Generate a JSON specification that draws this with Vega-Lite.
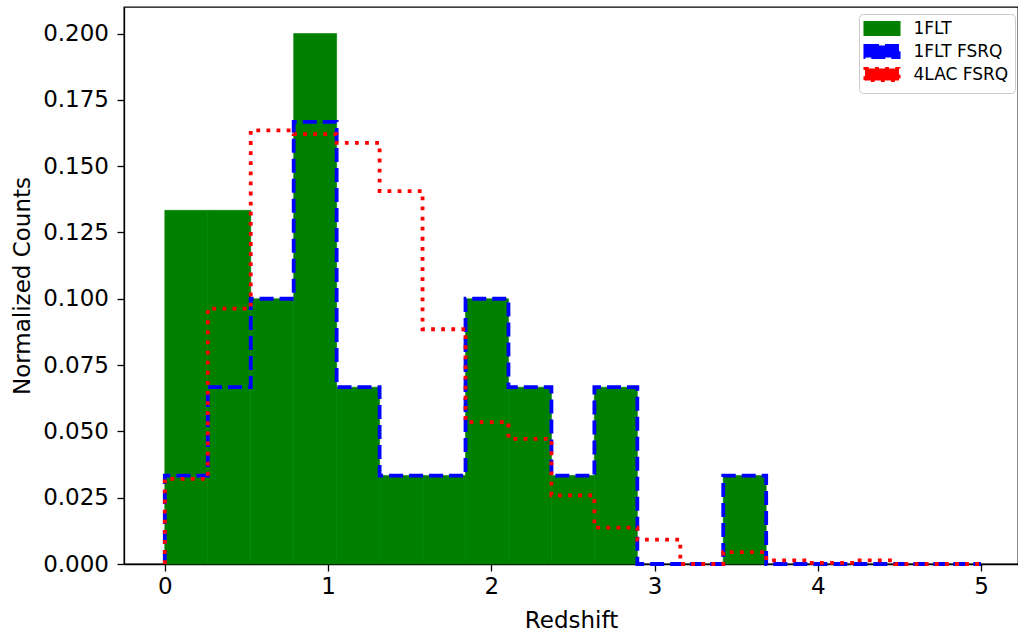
{
  "$schema": "https://vega.github.io/schema/vega-lite/v6.json",
  "width": 894,
  "height": 557,
  "autosize": {"type": "none"},
  "padding": {"left": 124, "top": 7, "right": 0, "bottom": 72},
  "background": "white",
  "config": {
    "font": "DejaVu Sans",
    "view": {"stroke": "black", "strokeWidth": 1.3},
    "axis": {
      "grid": false,
      "domainColor": "black",
      "domainWidth": 1.3,
      "tickColor": "black",
      "tickWidth": 1.3,
      "tickSize": 7,
      "labelColor": "black",
      "labelFont": "DejaVu Sans",
      "labelFontSize": 23,
      "titleFont": "DejaVu Sans",
      "titleFontSize": 23,
      "titleFontWeight": "normal",
      "titleColor": "black"
    }
  },
  "datasets": {
    "bars": [
      {"series": "1FLT", "x0": 0.0, "x1": 0.26316, "y": 0.13333},
      {"series": "1FLT", "x0": 0.26316, "x1": 0.52632, "y": 0.13333},
      {"series": "1FLT", "x0": 0.52632, "x1": 0.78947, "y": 0.1},
      {"series": "1FLT", "x0": 0.78947, "x1": 1.05263, "y": 0.2},
      {"series": "1FLT", "x0": 1.05263, "x1": 1.31579, "y": 0.06667},
      {"series": "1FLT", "x0": 1.31579, "x1": 1.57895, "y": 0.03333},
      {"series": "1FLT", "x0": 1.57895, "x1": 1.84211, "y": 0.03333},
      {"series": "1FLT", "x0": 1.84211, "x1": 2.10526, "y": 0.1},
      {"series": "1FLT", "x0": 2.10526, "x1": 2.36842, "y": 0.06667},
      {"series": "1FLT", "x0": 2.36842, "x1": 2.63158, "y": 0.03333},
      {"series": "1FLT", "x0": 2.63158, "x1": 2.89474, "y": 0.06667},
      {"series": "1FLT", "x0": 3.42105, "x1": 3.68421, "y": 0.03333}
    ],
    "steps": [
      {"series": "1FLT FSRQ", "i": 0, "x": 0.0, "y": 0},
      {"series": "1FLT FSRQ", "i": 1, "x": 0.0, "y": 0.03333},
      {"series": "1FLT FSRQ", "i": 2, "x": 0.26316, "y": 0.06667},
      {"series": "1FLT FSRQ", "i": 3, "x": 0.52632, "y": 0.1},
      {"series": "1FLT FSRQ", "i": 4, "x": 0.78947, "y": 0.16667},
      {"series": "1FLT FSRQ", "i": 5, "x": 1.05263, "y": 0.06667},
      {"series": "1FLT FSRQ", "i": 6, "x": 1.31579, "y": 0.03333},
      {"series": "1FLT FSRQ", "i": 7, "x": 1.57895, "y": 0.03333},
      {"series": "1FLT FSRQ", "i": 8, "x": 1.84211, "y": 0.1},
      {"series": "1FLT FSRQ", "i": 9, "x": 2.10526, "y": 0.06667},
      {"series": "1FLT FSRQ", "i": 10, "x": 2.36842, "y": 0.03333},
      {"series": "1FLT FSRQ", "i": 11, "x": 2.63158, "y": 0.06667},
      {"series": "1FLT FSRQ", "i": 12, "x": 2.89474, "y": 0},
      {"series": "1FLT FSRQ", "i": 13, "x": 3.15789, "y": 0},
      {"series": "1FLT FSRQ", "i": 14, "x": 3.42105, "y": 0.03333},
      {"series": "1FLT FSRQ", "i": 15, "x": 3.68421, "y": 0},
      {"series": "1FLT FSRQ", "i": 16, "x": 3.94737, "y": 0},
      {"series": "1FLT FSRQ", "i": 17, "x": 4.21053, "y": 0},
      {"series": "1FLT FSRQ", "i": 18, "x": 4.47368, "y": 0},
      {"series": "1FLT FSRQ", "i": 19, "x": 4.73684, "y": 0},
      {"series": "1FLT FSRQ", "i": 20, "x": 5.0, "y": 0},
      {"series": "4LAC FSRQ", "i": 0, "x": 0.0, "y": 0},
      {"series": "4LAC FSRQ", "i": 1, "x": 0.0, "y": 0.0321},
      {"series": "4LAC FSRQ", "i": 2, "x": 0.26316, "y": 0.0963},
      {"series": "4LAC FSRQ", "i": 3, "x": 0.52632, "y": 0.1635},
      {"series": "4LAC FSRQ", "i": 4, "x": 0.78947, "y": 0.1621},
      {"series": "4LAC FSRQ", "i": 5, "x": 1.05263, "y": 0.1588},
      {"series": "4LAC FSRQ", "i": 6, "x": 1.31579, "y": 0.1406},
      {"series": "4LAC FSRQ", "i": 7, "x": 1.57895, "y": 0.0885},
      {"series": "4LAC FSRQ", "i": 8, "x": 1.84211, "y": 0.0535},
      {"series": "4LAC FSRQ", "i": 9, "x": 2.10526, "y": 0.0472},
      {"series": "4LAC FSRQ", "i": 10, "x": 2.36842, "y": 0.0259},
      {"series": "4LAC FSRQ", "i": 11, "x": 2.63158, "y": 0.0137},
      {"series": "4LAC FSRQ", "i": 12, "x": 2.89474, "y": 0.0092},
      {"series": "4LAC FSRQ", "i": 13, "x": 3.15789, "y": 0},
      {"series": "4LAC FSRQ", "i": 14, "x": 3.42105, "y": 0.0045},
      {"series": "4LAC FSRQ", "i": 15, "x": 3.68421, "y": 0.0014},
      {"series": "4LAC FSRQ", "i": 16, "x": 3.94737, "y": 0.0004},
      {"series": "4LAC FSRQ", "i": 17, "x": 4.21053, "y": 0.0014},
      {"series": "4LAC FSRQ", "i": 18, "x": 4.47368, "y": 0},
      {"series": "4LAC FSRQ", "i": 19, "x": 4.73684, "y": 0},
      {"series": "4LAC FSRQ", "i": 20, "x": 5.0, "y": 0}
    ]
  },
  "layer": [
    {
      "data": {"name": "bars"},
      "mark": {"type": "bar", "opacity": 1, "stroke": "#008000", "strokeWidth": 0.6},
      "encoding": {
        "x": {
          "field": "x0", "type": "quantitative",
          "scale": {"domain": [-0.25, 5.2267], "nice": false, "zero": false},
          "axis": {"title": "Redshift", "values": [0, 1, 2, 3, 4, 5], "format": "d", "labelPadding": 4, "titlePadding": 11}
        },
        "x2": {"field": "x1"},
        "y": {
          "field": "y", "type": "quantitative",
          "scale": {"domain": [0, 0.21], "nice": false, "zero": true},
          "axis": {"title": "Normalized Counts", "values": [0, 0.025, 0.05, 0.075, 0.1, 0.125, 0.15, 0.175, 0.2], "format": ".3f", "labelPadding": 8.5, "titlePadding": 8}
        },
        "y2": {"datum": 0},
        "color": {
          "field": "series", "type": "nominal",
          "scale": {"domain": ["1FLT", "1FLT FSRQ", "4LAC FSRQ"], "range": ["#008000", "#0000ff", "#ff0000"]},
          "legend": {
            "title": null,
            "orient": "none",
            "legendX": 735,
            "legendY": 7,
            "fillColor": "rgba(255,255,255,0.8)",
            "strokeColor": "#cccccc",
            "cornerRadius": 4,
            "padding": 6,
            "symbolType": "M-2.78,-1H2.78V1H-2.78Z",
            "symbolSize": 150,
            "symbolOffset": 8.5,
            "symbolStrokeWidth": 3,
            "labelOffset": 23,
            "labelFontSize": 17,
            "labelFont": "DejaVu Sans",
            "labelColor": "black",
            "rowPadding": -2,
            "encode": {
              "symbols": {
                "update": {
                  "fill": {"signal": "datum.value === '1FLT' ? '#008000' : 'transparent'"},
                  "stroke": {"signal": "datum.value === '1FLT' ? '#008000' : (datum.value === '1FLT FSRQ' ? '#0000ff' : '#ff0000')"},
                  "strokeDash": {"signal": "datum.value === '1FLT FSRQ' ? [14, 6] : (datum.value === '4LAC FSRQ' ? [3.8, 6.3] : [1, 0])"},
                  "strokeWidth": {"signal": "datum.value === '1FLT' ? 0 : 3.5"},
                  "opacity": {"value": 1}
                }
              }
            }
          }
        }
      }
    },
    {
      "data": {"name": "steps"},
      "mark": {"type": "line", "interpolate": "step-after", "strokeWidth": 3.8, "strokeCap": "butt", "strokeJoin": "miter"},
      "encoding": {
        "x": {"field": "x", "type": "quantitative"},
        "y": {"field": "y", "type": "quantitative"},
        "order": {"field": "i", "type": "quantitative"},
        "color": {"field": "series", "type": "nominal"},
        "strokeDash": {
          "field": "series", "type": "nominal",
          "scale": {"domain": ["1FLT", "1FLT FSRQ", "4LAC FSRQ"], "range": [[1, 0], [14, 6], [3.8, 6.3]]},
          "legend": null
        }
      }
    }
  ]
}
